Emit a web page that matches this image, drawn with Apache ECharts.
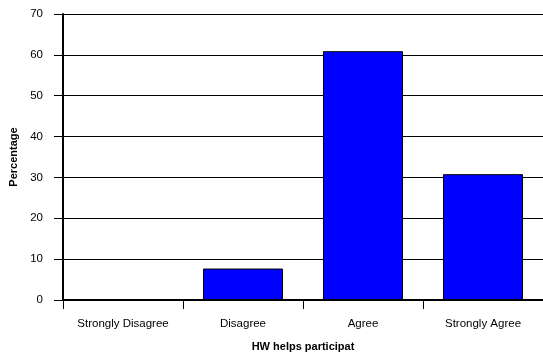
<!DOCTYPE html>
<html>
<head>
<meta charset="utf-8">
<script src="https://cdn.jsdelivr.net/npm/echarts@6/dist/echarts.min.js"></script>
<style>
  html, body { margin: 0; padding: 0; background: #fff; }
  #chart { width: 543px; height: 356px; }
</style>
</head>
<body>
<div id="chart"></div>
<script>
// Response categories and the share of participants choosing each
const categories = ['Strongly Disagree', 'Disagree', 'Agree', 'Strongly Agree'];
const percentages = [0, 7.7, 60.9, 30.8];
const yTicks = [0, 10, 20, 30, 40, 50, 60, 70];

const chart = echarts.init(document.getElementById('chart'), null, { renderer: 'canvas' });
const font = '"Liberation Sans", Arial, sans-serif';

chart.setOption({
  animation: false,
  backgroundColor: '#ffffff',
  grid: { left: 63, right: 0, top: 14, bottom: 56, containLabel: false, outerBoundsMode: 'none' },
  xAxis: {
    type: 'category',
    data: categories,
    boundaryGap: true,
    name: 'HW helps participat',
    nameLocation: 'middle',
    nameGap: 41,
    nameTextStyle: { fontFamily: font, fontSize: 11, fontWeight: 'bold', color: '#000' },
    axisLine: { lineStyle: { color: '#000', width: 2 } },
    axisTick: { show: true, length: 9, alignWithLabel: false, lineStyle: { color: '#000', width: 1 } },
    axisLabel: { fontFamily: font, fontSize: 11.5, color: '#000', margin: 18, interval: 0 }
  },
  yAxis: {
    type: 'value',
    min: yTicks[0],
    max: yTicks[yTicks.length - 1],
    interval: 10,
    name: 'Percentage',
    nameLocation: 'middle',
    nameGap: 44,
    nameRotate: 90,
    nameTextStyle: { fontFamily: font, fontSize: 11, fontWeight: 'bold', color: '#000' },
    axisLine: { show: true, lineStyle: { color: '#000', width: 2 } },
    axisTick: { show: true, length: 9, lineStyle: { color: '#000', width: 1 } },
    axisLabel: { fontFamily: font, fontSize: 11.5, color: '#000', margin: 20 },
    splitLine: { show: true, lineStyle: { color: '#000', width: 1 } }
  },
  series: [{
    type: 'bar',
    data: percentages,
    barWidth: '66.7%',
    itemStyle: { color: '#0000ff', borderColor: '#000', borderWidth: 1 }
  }]
});
</script>
</body>
</html>
